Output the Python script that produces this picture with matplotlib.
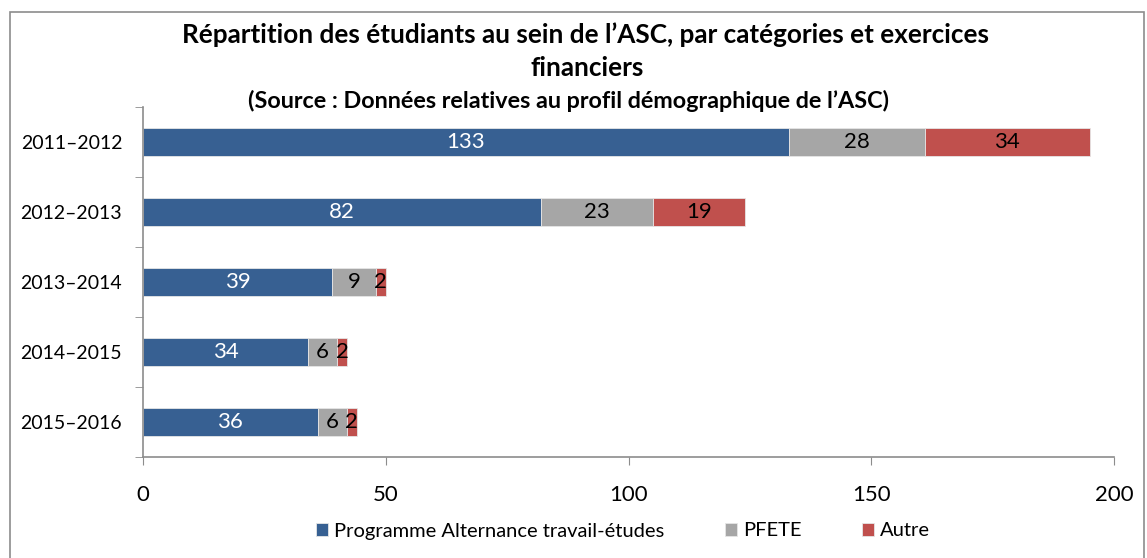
import matplotlib.pyplot as plt
import numpy as np
from matplotlib.patches import Rectangle

years = ["2011–2012", "2012–2013", "2013–2014", "2014–2015", "2015–2016"]
series_names = ["Programme Alternance travail-études", "PFETE", "Autre"]
alternance = [133, 82, 39, 34, 36]
pfete = [28, 23, 9, 6, 6]
autre = [34, 19, 2, 2, 2]

colors = ["#376092", "#a6a6a6", "#c0504d"]
label_colors = ["white", "black", "black"]

plt.rcParams["font.family"] = ["Lato", "DejaVu Sans"]

fig = plt.figure(figsize=(11.47, 5.58), dpi=100)
ax = fig.add_axes([143 / 1147, 101 / 558, (1114 - 143) / 1147, (457 - 107) / 558])

y = np.arange(len(years))
left = np.zeros(len(years))
for name, vals, col, lcol in zip(series_names, [alternance, pfete, autre], colors, label_colors):
    vals = np.array(vals, dtype=float)
    bars = ax.barh(y, vals, left=left, height=0.4, color=col, edgecolor="#e6e6e6",
                   linewidth=0.6, label=name)
    for b, v in zip(bars, vals):
        ax.text(b.get_x() + b.get_width() / 2, b.get_y() + b.get_height() / 2, f"{v:g}",
                ha="center", va="center", color=lcol, fontsize=16)
    left += vals

ax.set_xlim(0, 200)
ax.set_ylim(len(years) - 0.5, -0.5)
ax.set_xticks([0, 50, 100, 150, 200])
ax.tick_params(axis="x", labelsize=16, length=6, color="#8c8c8c", pad=14)
ax.set_yticks(y)
ax.set_yticklabels(years, fontsize=14)
ax.tick_params(axis="y", length=0, pad=15)
ax.set_yticks(np.arange(len(years) + 1) - 0.5, minor=True)
ax.tick_params(axis="y", which="minor", length=6, color="#8c8c8c")
for s in ["top", "right"]:
    ax.spines[s].set_visible(False)
for s in ["left", "bottom"]:
    ax.spines[s].set_color("#8c8c8c")
    ax.spines[s].set_linewidth(1.2)

fig.text(586 / 1147, 1 - 35 / 558, "Répartition des étudiants au sein de l’ASC, par catégories et exercices",
         ha="center", va="center", fontsize=18.8, fontweight="bold")
fig.text(587 / 1147, 1 - 68 / 558, "financiers", ha="center", va="center", fontsize=18.8, fontweight="bold")
fig.text(568 / 1147, 1 - 101 / 558, "(Source : Données relatives au profil démographique de l’ASC)",
         ha="center", va="center", fontsize=16.8, fontweight="bold")

fig.legend(loc="center", bbox_to_anchor=(0.543, 1 - 531 / 558), ncol=3, frameon=False,
           fontsize=14.5, handlelength=0.6, handleheight=0.6, handletextpad=0.3, columnspacing=3.0)

fig.patches.append(Rectangle((10 / 1147, -0.01), 1134 / 1147, 1 - 12 / 558 + 0.01,
                             transform=fig.transFigure, fill=False, edgecolor="#8c8c8c",
                             linewidth=1.2))

fig.savefig("out.png", dpi=100)
